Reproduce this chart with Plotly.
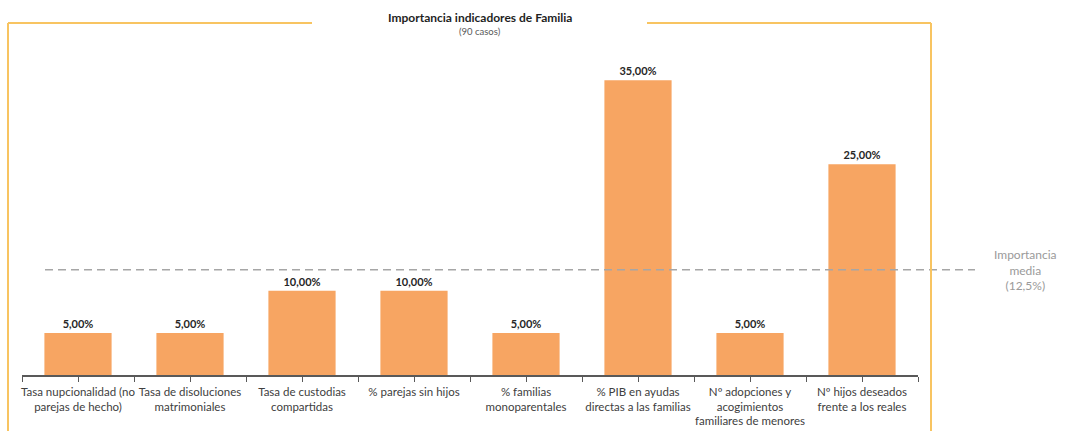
import plotly.graph_objects as go

# Data
categorias = [
    "Tasa nupcionalidad (no<br>parejas de hecho)",
    "Tasa de disoluciones<br>matrimoniales",
    "Tasa de custodias<br>compartidas",
    "% parejas sin hijos",
    "% familias<br>monoparentales",
    "% PIB en ayudas<br>directas a las familias",
    "Nº adopciones y<br>acogimientos<br>familiares de menores",
    "Nº hijos deseados<br>frente a los reales",
]
importancia = [5.0, 5.0, 10.0, 10.0, 5.0, 35.0, 5.0, 25.0]
importancia_media = 12.5
titulo = "Importancia indicadores de Familia"
subtitulo = "(90 casos)"
etiqueta_media = "Importancia<br>media<br>(12,5%)"

W, H = 1065, 431
M_L, M_R, M_T, M_B = 22, 147, 38, 56
PW, PH = W - M_L - M_R, H - M_T - M_B


def px_x(p):
    return (p - M_L) / PW


def px_y(p):
    return (H - M_B - p) / PH


def pct(v):
    return f"{v:.2f}".replace(".", ",") + "%"


posiciones = list(range(len(categorias)))
FONT = "Lato"
ORANGE = "#F7A562"
FRAME = "#F8C461"

fig = go.Figure(
    go.Bar(
        x=posiciones,
        y=importancia,
        width=0.6,
        marker=dict(color=ORANGE, line=dict(width=0)),
        text=[pct(v) for v in importancia],
        textposition="outside",
        textfont=dict(family=FONT, size=11, color="#262626", weight="bold"),
        cliponaxis=False,
        hoverinfo="skip",
    )
)

# Average line
fig.add_shape(
    type="line", xref="paper", yref="y",
    x0=px_x(45), x1=px_x(975), y0=importancia_media, y1=importancia_media,
    line=dict(color="#A6A6A6", width=1.5, dash="8px,5px"),
)
fig.add_annotation(
    xref="paper", yref="y", x=px_x(1025), y=importancia_media,
    text=etiqueta_media, showarrow=False, xanchor="center", yanchor="middle",
    font=dict(family=FONT, size=12, color="#9A9A9A"), align="center",
)

# Frame around the chart, open at the title
frame = dict(color=FRAME, width=2)
top = px_y(23)
bottom = px_y(445)
for x0, x1 in [(8, 312), (647, 931)]:
    fig.add_shape(type="line", xref="paper", yref="paper",
                  x0=px_x(x0), x1=px_x(x1), y0=top, y1=top, line=frame)
for xv in (8, 931):
    fig.add_shape(type="line", xref="paper", yref="paper",
                  x0=px_x(xv), x1=px_x(xv), y0=top, y1=bottom, line=frame)

# Titles
fig.add_annotation(
    xref="paper", yref="paper", x=px_x(480), y=px_y(18), text=titulo,
    showarrow=False, xanchor="center", yanchor="middle",
    font=dict(family=FONT, size=12, color="#1F1F1F", weight="bold"),
)
fig.add_annotation(
    xref="paper", yref="paper", x=px_x(480), y=px_y(31), text=subtitulo,
    showarrow=False, xanchor="center", yanchor="middle",
    font=dict(family=FONT, size=9.5, color="#595959"),
)

fig.update_layout(
    width=W, height=H,
    margin=dict(l=M_L, r=M_R, t=M_T, b=M_B, autoexpand=False),
    paper_bgcolor="white", plot_bgcolor="white",
    showlegend=False, bargap=0.4,
    xaxis=dict(
        range=[-0.5, len(categorias) - 0.5],
        tickvals=posiciones, ticktext=categorias,
        showgrid=False, zeroline=False,
        showline=True, linecolor="#595959", linewidth=1.5,
        ticks="outside", ticklen=5, tickcolor="#595959", tickwidth=1,
        minor=dict(ticks="outside", tick0=-0.5, dtick=0.5, ticklen=5,
                   tickcolor="#595959", tickwidth=1, showgrid=False),
        tickfont=dict(family=FONT, size=11.5, color="#404040"),
        fixedrange=True,
    ),
    yaxis=dict(range=[0, 40], visible=False, fixedrange=True),
)

fig.write_html("out.html")
